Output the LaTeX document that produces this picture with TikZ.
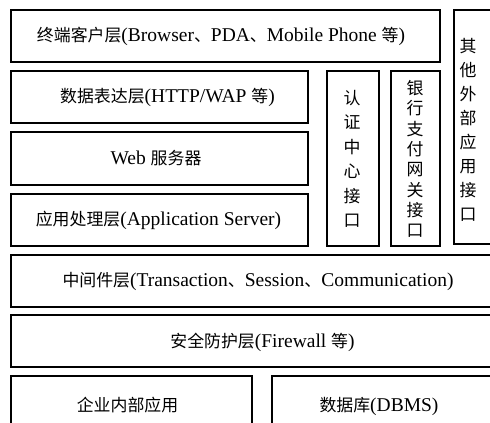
\documentclass[tikz,border=0pt]{standalone}
\usepackage{fontspec}
\setmainfont{Liberation Serif}
\newfontfamily\cjkfont{Noto Sans CJK SC}
\newcommand{\C}[1]{{\cjkfont\fontsize{16.9}{20}\selectfont #1}}
\begin{document}
\begin{tikzpicture}[x=1pt,y=-1pt,
  box/.style={draw=black, line width=1.5pt, anchor=north west, inner sep=0pt},
  lbl/.style={inner sep=0pt, text height=15pt, text depth=2pt, font=\fontsize{19.5}{22}\selectfont},
  vlbl/.style={inner sep=0pt, align=center}]
\useasboundingbox (0,0) rectangle (490,423);
\clip (0,0) rectangle (490,423);
% boxes
\node[box, minimum width=429pt, minimum height=52pt] (client) at (10,9) {};
\node[box, minimum width=60pt, minimum height=234pt] (other) at (453,9) {};
\node[box, minimum width=297pt, minimum height=52pt] (present) at (10,70) {};
\node[box, minimum width=52pt, minimum height=175pt] (auth) at (326,70) {};
\node[box, minimum width=49pt, minimum height=175pt] (bank) at (390,70) {};
\node[box, minimum width=297pt, minimum height=53pt] (web) at (10,131) {};
\node[box, minimum width=297pt, minimum height=52pt] (app) at (10,193) {};
\node[box, minimum width=520pt, minimum height=52pt] (mid) at (10,254) {};
\node[box, minimum width=520pt, minimum height=52pt] (sec) at (10,314) {};
\node[box, minimum width=241pt, minimum height=70pt] (ent) at (10,375) {};
\node[box, minimum width=260pt, minimum height=70pt] (db) at (271,375) {};
% labels
\node[lbl] (tclient) at (221,35) {\C{终端客户层}(Browser\C{、}PDA\C{、}Mobile Phone \C{等})};
\node[lbl] (tpresent) at (167.5,96) {\C{数据表达层}(HTTP/WAP \C{等})};
\node[lbl] (tweb) at (156,157.5) {Web \C{服务器}};
\node[lbl] (tapp) at (158.5,219) {\C{应用处理层}(Application Server)};
\node[lbl] (tmid) at (258,280) {\C{中间件层}(Transaction\C{、}Session\C{、}Communication)};
\node[lbl] (tsec) at (262.5,340.5) {\C{安全防护层}(Firewall \C{等})};
\node[lbl] (tent) at (127.5,405) {\C{企业内部应用}};
\node[lbl] (tdb) at (379,405) {\C{数据库}(DBMS)};
\node[vlbl, font=\cjkfont\fontsize{16.9}{24.5}\selectfont] (tauth) at (352,159) {认\\证\\中\\心\\接\\口};
\node[vlbl, font=\cjkfont\fontsize{16.9}{20.3}\selectfont] (tbank) at (415,159) {银\\行\\支\\付\\网\\关\\接\\口};
\node[vlbl, font=\cjkfont\fontsize{16.9}{24}\selectfont] (tother) at (468,130) {其\\他\\外\\部\\应\\用\\接\\口};
\end{tikzpicture}
\end{document}
